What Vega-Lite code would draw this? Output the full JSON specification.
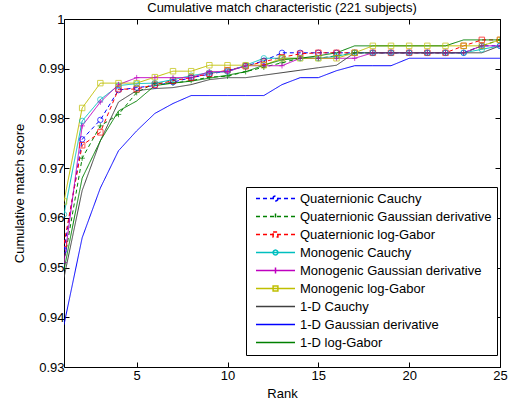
{
  "$schema": "https://vega.github.io/schema/vega-lite/v6.json",
  "width": 436,
  "height": 348,
  "autosize": "none",
  "padding": {"left": 64, "top": 19, "right": 8, "bottom": 40},
  "background": "white",
  "title": {"text": "Cumulative match characteristic (221 subjects)", "fontSize": 13, "font": "Liberation Sans", "fontWeight": "normal", "color": "black", "offset": -2, "anchor": "middle"},
  "config": {"view": {"stroke": null}, "font": "Liberation Sans"},
  "datasets": {
    "cmc": [
      {"series": "Quaternionic Cauchy", "rank": 1, "score": 0.9535},
      {"series": "Quaternionic Cauchy", "rank": 2, "score": 0.9758},
      {"series": "Quaternionic Cauchy", "rank": 3, "score": 0.9797},
      {"series": "Quaternionic Cauchy", "rank": 4, "score": 0.9857},
      {"series": "Quaternionic Cauchy", "rank": 5, "score": 0.9862},
      {"series": "Quaternionic Cauchy", "rank": 6, "score": 0.9866},
      {"series": "Quaternionic Cauchy", "rank": 7, "score": 0.9873},
      {"series": "Quaternionic Cauchy", "rank": 8, "score": 0.9882},
      {"series": "Quaternionic Cauchy", "rank": 9, "score": 0.9889},
      {"series": "Quaternionic Cauchy", "rank": 10, "score": 0.9896},
      {"series": "Quaternionic Cauchy", "rank": 11, "score": 0.9905},
      {"series": "Quaternionic Cauchy", "rank": 12, "score": 0.9916},
      {"series": "Quaternionic Cauchy", "rank": 13, "score": 0.9932},
      {"series": "Quaternionic Cauchy", "rank": 14, "score": 0.9932},
      {"series": "Quaternionic Cauchy", "rank": 15, "score": 0.9932},
      {"series": "Quaternionic Cauchy", "rank": 16, "score": 0.9932},
      {"series": "Quaternionic Cauchy", "rank": 17, "score": 0.9932},
      {"series": "Quaternionic Cauchy", "rank": 18, "score": 0.9932},
      {"series": "Quaternionic Cauchy", "rank": 19, "score": 0.9932},
      {"series": "Quaternionic Cauchy", "rank": 20, "score": 0.9932},
      {"series": "Quaternionic Cauchy", "rank": 21, "score": 0.9932},
      {"series": "Quaternionic Cauchy", "rank": 22, "score": 0.9932},
      {"series": "Quaternionic Cauchy", "rank": 23, "score": 0.9932},
      {"series": "Quaternionic Cauchy", "rank": 24, "score": 0.9946},
      {"series": "Quaternionic Cauchy", "rank": 25, "score": 0.9946},
      {"series": "Quaternionic Gaussian derivative", "rank": 1, "score": 0.951},
      {"series": "Quaternionic Gaussian derivative", "rank": 2, "score": 0.972},
      {"series": "Quaternionic Gaussian derivative", "rank": 3, "score": 0.9785},
      {"series": "Quaternionic Gaussian derivative", "rank": 4, "score": 0.9808},
      {"series": "Quaternionic Gaussian derivative", "rank": 5, "score": 0.9852},
      {"series": "Quaternionic Gaussian derivative", "rank": 6, "score": 0.9871},
      {"series": "Quaternionic Gaussian derivative", "rank": 7, "score": 0.9871},
      {"series": "Quaternionic Gaussian derivative", "rank": 8, "score": 0.9876},
      {"series": "Quaternionic Gaussian derivative", "rank": 9, "score": 0.9883},
      {"series": "Quaternionic Gaussian derivative", "rank": 10, "score": 0.9885},
      {"series": "Quaternionic Gaussian derivative", "rank": 11, "score": 0.9894},
      {"series": "Quaternionic Gaussian derivative", "rank": 12, "score": 0.9903},
      {"series": "Quaternionic Gaussian derivative", "rank": 13, "score": 0.9912},
      {"series": "Quaternionic Gaussian derivative", "rank": 14, "score": 0.9921},
      {"series": "Quaternionic Gaussian derivative", "rank": 15, "score": 0.9921},
      {"series": "Quaternionic Gaussian derivative", "rank": 16, "score": 0.9926},
      {"series": "Quaternionic Gaussian derivative", "rank": 17, "score": 0.9932},
      {"series": "Quaternionic Gaussian derivative", "rank": 18, "score": 0.9932},
      {"series": "Quaternionic Gaussian derivative", "rank": 19, "score": 0.9932},
      {"series": "Quaternionic Gaussian derivative", "rank": 20, "score": 0.9932},
      {"series": "Quaternionic Gaussian derivative", "rank": 21, "score": 0.9932},
      {"series": "Quaternionic Gaussian derivative", "rank": 22, "score": 0.9932},
      {"series": "Quaternionic Gaussian derivative", "rank": 23, "score": 0.9932},
      {"series": "Quaternionic Gaussian derivative", "rank": 24, "score": 0.9946},
      {"series": "Quaternionic Gaussian derivative", "rank": 25, "score": 0.9958},
      {"series": "Quaternionic log-Gabor", "rank": 1, "score": 0.9548},
      {"series": "Quaternionic log-Gabor", "rank": 2, "score": 0.9746},
      {"series": "Quaternionic log-Gabor", "rank": 3, "score": 0.9772},
      {"series": "Quaternionic log-Gabor", "rank": 4, "score": 0.9859},
      {"series": "Quaternionic log-Gabor", "rank": 5, "score": 0.9859},
      {"series": "Quaternionic log-Gabor", "rank": 6, "score": 0.9868},
      {"series": "Quaternionic log-Gabor", "rank": 7, "score": 0.9876},
      {"series": "Quaternionic log-Gabor", "rank": 8, "score": 0.9882},
      {"series": "Quaternionic log-Gabor", "rank": 9, "score": 0.989},
      {"series": "Quaternionic log-Gabor", "rank": 10, "score": 0.9897},
      {"series": "Quaternionic log-Gabor", "rank": 11, "score": 0.9905},
      {"series": "Quaternionic log-Gabor", "rank": 12, "score": 0.9914},
      {"series": "Quaternionic log-Gabor", "rank": 13, "score": 0.9923},
      {"series": "Quaternionic log-Gabor", "rank": 14, "score": 0.993},
      {"series": "Quaternionic log-Gabor", "rank": 15, "score": 0.9932},
      {"series": "Quaternionic log-Gabor", "rank": 16, "score": 0.9932},
      {"series": "Quaternionic log-Gabor", "rank": 17, "score": 0.9932},
      {"series": "Quaternionic log-Gabor", "rank": 18, "score": 0.9932},
      {"series": "Quaternionic log-Gabor", "rank": 19, "score": 0.9932},
      {"series": "Quaternionic log-Gabor", "rank": 20, "score": 0.9932},
      {"series": "Quaternionic log-Gabor", "rank": 21, "score": 0.9932},
      {"series": "Quaternionic log-Gabor", "rank": 22, "score": 0.9932},
      {"series": "Quaternionic log-Gabor", "rank": 23, "score": 0.9946},
      {"series": "Quaternionic log-Gabor", "rank": 24, "score": 0.9958},
      {"series": "Quaternionic log-Gabor", "rank": 25, "score": 0.9958},
      {"series": "Monogenic Cauchy", "rank": 1, "score": 0.9607},
      {"series": "Monogenic Cauchy", "rank": 2, "score": 0.9795},
      {"series": "Monogenic Cauchy", "rank": 3, "score": 0.9838},
      {"series": "Monogenic Cauchy", "rank": 4, "score": 0.9866},
      {"series": "Monogenic Cauchy", "rank": 5, "score": 0.987},
      {"series": "Monogenic Cauchy", "rank": 6, "score": 0.9871},
      {"series": "Monogenic Cauchy", "rank": 7, "score": 0.9878},
      {"series": "Monogenic Cauchy", "rank": 8, "score": 0.9886},
      {"series": "Monogenic Cauchy", "rank": 9, "score": 0.9892},
      {"series": "Monogenic Cauchy", "rank": 10, "score": 0.9894},
      {"series": "Monogenic Cauchy", "rank": 11, "score": 0.9907},
      {"series": "Monogenic Cauchy", "rank": 12, "score": 0.9921},
      {"series": "Monogenic Cauchy", "rank": 13, "score": 0.9921},
      {"series": "Monogenic Cauchy", "rank": 14, "score": 0.9921},
      {"series": "Monogenic Cauchy", "rank": 15, "score": 0.9921},
      {"series": "Monogenic Cauchy", "rank": 16, "score": 0.9925},
      {"series": "Monogenic Cauchy", "rank": 17, "score": 0.9932},
      {"series": "Monogenic Cauchy", "rank": 18, "score": 0.9932},
      {"series": "Monogenic Cauchy", "rank": 19, "score": 0.9932},
      {"series": "Monogenic Cauchy", "rank": 20, "score": 0.9932},
      {"series": "Monogenic Cauchy", "rank": 21, "score": 0.9932},
      {"series": "Monogenic Cauchy", "rank": 22, "score": 0.9932},
      {"series": "Monogenic Cauchy", "rank": 23, "score": 0.9932},
      {"series": "Monogenic Cauchy", "rank": 24, "score": 0.9939},
      {"series": "Monogenic Cauchy", "rank": 25, "score": 0.9946},
      {"series": "Monogenic Gaussian derivative", "rank": 1, "score": 0.951},
      {"series": "Monogenic Gaussian derivative", "rank": 2, "score": 0.9785},
      {"series": "Monogenic Gaussian derivative", "rank": 3, "score": 0.9833},
      {"series": "Monogenic Gaussian derivative", "rank": 4, "score": 0.9868},
      {"series": "Monogenic Gaussian derivative", "rank": 5, "score": 0.9882},
      {"series": "Monogenic Gaussian derivative", "rank": 6, "score": 0.9882},
      {"series": "Monogenic Gaussian derivative", "rank": 7, "score": 0.9882},
      {"series": "Monogenic Gaussian derivative", "rank": 8, "score": 0.9882},
      {"series": "Monogenic Gaussian derivative", "rank": 9, "score": 0.9894},
      {"series": "Monogenic Gaussian derivative", "rank": 10, "score": 0.9894},
      {"series": "Monogenic Gaussian derivative", "rank": 11, "score": 0.9906},
      {"series": "Monogenic Gaussian derivative", "rank": 12, "score": 0.9906},
      {"series": "Monogenic Gaussian derivative", "rank": 13, "score": 0.9906},
      {"series": "Monogenic Gaussian derivative", "rank": 14, "score": 0.9921},
      {"series": "Monogenic Gaussian derivative", "rank": 15, "score": 0.9921},
      {"series": "Monogenic Gaussian derivative", "rank": 16, "score": 0.9921},
      {"series": "Monogenic Gaussian derivative", "rank": 17, "score": 0.9921},
      {"series": "Monogenic Gaussian derivative", "rank": 18, "score": 0.9932},
      {"series": "Monogenic Gaussian derivative", "rank": 19, "score": 0.9932},
      {"series": "Monogenic Gaussian derivative", "rank": 20, "score": 0.9932},
      {"series": "Monogenic Gaussian derivative", "rank": 21, "score": 0.9932},
      {"series": "Monogenic Gaussian derivative", "rank": 22, "score": 0.9932},
      {"series": "Monogenic Gaussian derivative", "rank": 23, "score": 0.9932},
      {"series": "Monogenic Gaussian derivative", "rank": 24, "score": 0.9946},
      {"series": "Monogenic Gaussian derivative", "rank": 25, "score": 0.9946},
      {"series": "Monogenic log-Gabor", "rank": 1, "score": 0.9633},
      {"series": "Monogenic log-Gabor", "rank": 2, "score": 0.9821},
      {"series": "Monogenic log-Gabor", "rank": 3, "score": 0.9871},
      {"series": "Monogenic log-Gabor", "rank": 4, "score": 0.9871},
      {"series": "Monogenic log-Gabor", "rank": 5, "score": 0.9871},
      {"series": "Monogenic log-Gabor", "rank": 6, "score": 0.9883},
      {"series": "Monogenic log-Gabor", "rank": 7, "score": 0.9895},
      {"series": "Monogenic log-Gabor", "rank": 8, "score": 0.9895},
      {"series": "Monogenic log-Gabor", "rank": 9, "score": 0.9907},
      {"series": "Monogenic log-Gabor", "rank": 10, "score": 0.9907},
      {"series": "Monogenic log-Gabor", "rank": 11, "score": 0.9907},
      {"series": "Monogenic log-Gabor", "rank": 12, "score": 0.9907},
      {"series": "Monogenic log-Gabor", "rank": 13, "score": 0.9921},
      {"series": "Monogenic log-Gabor", "rank": 14, "score": 0.9921},
      {"series": "Monogenic log-Gabor", "rank": 15, "score": 0.9921},
      {"series": "Monogenic log-Gabor", "rank": 16, "score": 0.9921},
      {"series": "Monogenic log-Gabor", "rank": 17, "score": 0.9932},
      {"series": "Monogenic log-Gabor", "rank": 18, "score": 0.9946},
      {"series": "Monogenic log-Gabor", "rank": 19, "score": 0.9946},
      {"series": "Monogenic log-Gabor", "rank": 20, "score": 0.9946},
      {"series": "Monogenic log-Gabor", "rank": 21, "score": 0.9946},
      {"series": "Monogenic log-Gabor", "rank": 22, "score": 0.9946},
      {"series": "Monogenic log-Gabor", "rank": 23, "score": 0.9946},
      {"series": "Monogenic log-Gabor", "rank": 24, "score": 0.9946},
      {"series": "Monogenic log-Gabor", "rank": 25, "score": 0.9958},
      {"series": "1-D Cauchy", "rank": 1, "score": 0.948},
      {"series": "1-D Cauchy", "rank": 2, "score": 0.9655},
      {"series": "1-D Cauchy", "rank": 3, "score": 0.9755},
      {"series": "1-D Cauchy", "rank": 4, "score": 0.9833},
      {"series": "1-D Cauchy", "rank": 5, "score": 0.9856},
      {"series": "1-D Cauchy", "rank": 6, "score": 0.986},
      {"series": "1-D Cauchy", "rank": 7, "score": 0.9862},
      {"series": "1-D Cauchy", "rank": 8, "score": 0.9868},
      {"series": "1-D Cauchy", "rank": 9, "score": 0.9878},
      {"series": "1-D Cauchy", "rank": 10, "score": 0.9882},
      {"series": "1-D Cauchy", "rank": 11, "score": 0.9882},
      {"series": "1-D Cauchy", "rank": 12, "score": 0.9887},
      {"series": "1-D Cauchy", "rank": 13, "score": 0.9892},
      {"series": "1-D Cauchy", "rank": 14, "score": 0.9897},
      {"series": "1-D Cauchy", "rank": 15, "score": 0.9902},
      {"series": "1-D Cauchy", "rank": 16, "score": 0.9907},
      {"series": "1-D Cauchy", "rank": 17, "score": 0.9932},
      {"series": "1-D Cauchy", "rank": 18, "score": 0.9932},
      {"series": "1-D Cauchy", "rank": 19, "score": 0.9932},
      {"series": "1-D Cauchy", "rank": 20, "score": 0.9932},
      {"series": "1-D Cauchy", "rank": 21, "score": 0.9932},
      {"series": "1-D Cauchy", "rank": 22, "score": 0.9932},
      {"series": "1-D Cauchy", "rank": 23, "score": 0.9932},
      {"series": "1-D Cauchy", "rank": 24, "score": 0.9932},
      {"series": "1-D Cauchy", "rank": 25, "score": 0.9946},
      {"series": "1-D Gaussian derivative", "rank": 1, "score": 0.9385},
      {"series": "1-D Gaussian derivative", "rank": 2, "score": 0.956},
      {"series": "1-D Gaussian derivative", "rank": 3, "score": 0.966},
      {"series": "1-D Gaussian derivative", "rank": 4, "score": 0.9735},
      {"series": "1-D Gaussian derivative", "rank": 5, "score": 0.9775},
      {"series": "1-D Gaussian derivative", "rank": 6, "score": 0.981},
      {"series": "1-D Gaussian derivative", "rank": 7, "score": 0.983},
      {"series": "1-D Gaussian derivative", "rank": 8, "score": 0.9846},
      {"series": "1-D Gaussian derivative", "rank": 9, "score": 0.9846},
      {"series": "1-D Gaussian derivative", "rank": 10, "score": 0.9846},
      {"series": "1-D Gaussian derivative", "rank": 11, "score": 0.9846},
      {"series": "1-D Gaussian derivative", "rank": 12, "score": 0.9846},
      {"series": "1-D Gaussian derivative", "rank": 13, "score": 0.9868},
      {"series": "1-D Gaussian derivative", "rank": 14, "score": 0.9882},
      {"series": "1-D Gaussian derivative", "rank": 15, "score": 0.9882},
      {"series": "1-D Gaussian derivative", "rank": 16, "score": 0.9896},
      {"series": "1-D Gaussian derivative", "rank": 17, "score": 0.9906},
      {"series": "1-D Gaussian derivative", "rank": 18, "score": 0.9906},
      {"series": "1-D Gaussian derivative", "rank": 19, "score": 0.9906},
      {"series": "1-D Gaussian derivative", "rank": 20, "score": 0.9921},
      {"series": "1-D Gaussian derivative", "rank": 21, "score": 0.9921},
      {"series": "1-D Gaussian derivative", "rank": 22, "score": 0.9921},
      {"series": "1-D Gaussian derivative", "rank": 23, "score": 0.9921},
      {"series": "1-D Gaussian derivative", "rank": 24, "score": 0.9921},
      {"series": "1-D Gaussian derivative", "rank": 25, "score": 0.9921},
      {"series": "1-D log-Gabor", "rank": 1, "score": 0.9495},
      {"series": "1-D log-Gabor", "rank": 2, "score": 0.968},
      {"series": "1-D log-Gabor", "rank": 3, "score": 0.9755},
      {"series": "1-D log-Gabor", "rank": 4, "score": 0.9815},
      {"series": "1-D log-Gabor", "rank": 5, "score": 0.9835},
      {"series": "1-D log-Gabor", "rank": 6, "score": 0.9866},
      {"series": "1-D log-Gabor", "rank": 7, "score": 0.9871},
      {"series": "1-D log-Gabor", "rank": 8, "score": 0.9875},
      {"series": "1-D log-Gabor", "rank": 9, "score": 0.9881},
      {"series": "1-D log-Gabor", "rank": 10, "score": 0.9887},
      {"series": "1-D log-Gabor", "rank": 11, "score": 0.9894},
      {"series": "1-D log-Gabor", "rank": 12, "score": 0.9907},
      {"series": "1-D log-Gabor", "rank": 13, "score": 0.9918},
      {"series": "1-D log-Gabor", "rank": 14, "score": 0.9921},
      {"series": "1-D log-Gabor", "rank": 15, "score": 0.9926},
      {"series": "1-D log-Gabor", "rank": 16, "score": 0.9932},
      {"series": "1-D log-Gabor", "rank": 17, "score": 0.9946},
      {"series": "1-D log-Gabor", "rank": 18, "score": 0.9946},
      {"series": "1-D log-Gabor", "rank": 19, "score": 0.9946},
      {"series": "1-D log-Gabor", "rank": 20, "score": 0.9946},
      {"series": "1-D log-Gabor", "rank": 21, "score": 0.9946},
      {"series": "1-D log-Gabor", "rank": 22, "score": 0.9946},
      {"series": "1-D log-Gabor", "rank": 23, "score": 0.9958},
      {"series": "1-D log-Gabor", "rank": 24, "score": 0.9958},
      {"series": "1-D log-Gabor", "rank": 25, "score": 0.9958}
    ]
  },
  "data": {"name": "cmc"},
  "layer": [
    {
      "mark": {"type": "line", "strokeWidth": 1, "clip": true},
      "encoding": {
        "x": {"field": "rank", "type": "quantitative", "scale": {"domain": [1, 25], "nice": false, "zero": false},
          "axis": {"orient": "bottom", "values": [5, 10, 15, 20, 25], "grid": false, "tickSize": -5, "tickColor": "black", "domainColor": "black", "labelColor": "black", "labelFont": "Liberation Sans", "labelFontSize": 13, "labelPadding": 7, "labelFlush": false, "title": "Rank", "titleFont": "Liberation Sans", "titleFontSize": 13, "titleFontWeight": "normal", "titleColor": "black", "titlePadding": 5}},
        "y": {"field": "score", "type": "quantitative", "scale": {"domain": [0.93, 1], "nice": false, "zero": false},
          "axis": {"orient": "left", "values": [0.93, 0.94, 0.95, 0.96, 0.97, 0.98, 0.99, 1], "format": ".2~f", "grid": false, "tickSize": -5, "tickColor": "black", "domainColor": "black", "labelColor": "black", "labelFont": "Liberation Sans", "labelFontSize": 13, "labelPadding": 5, "labelFlush": false, "title": "Cumulative match score", "titleFont": "Liberation Sans", "titleFontSize": 13, "titleFontWeight": "normal", "titleColor": "black", "titlePadding": 12}},
        "color": {"field": "series", "type": "nominal",
          "scale": {"domain": ["Quaternionic Cauchy", "Quaternionic Gaussian derivative", "Quaternionic log-Gabor", "Monogenic Cauchy", "Monogenic Gaussian derivative", "Monogenic log-Gabor", "1-D Cauchy", "1-D Gaussian derivative", "1-D log-Gabor"],
            "range": ["#0000ff", "#008000", "#ff0000", "#00bfbf", "#bf00bf", "#bfbf00", "#404040", "#0000ff", "#008000"]},
          "legend": {"orient": "none", "legendX": 182, "legendY": 168, "title": null, "strokeColor": "black", "fillColor": "white", "padding": 5, "labelFont": "Liberation Sans", "labelFontSize": 13, "labelColor": "black", "symbolSize": 36, "symbolStrokeWidth": 1.5, "symbolOffset": 18, "labelOffset": 18, "rowPadding": 4, "cornerRadius": 0, "labelLimit": 300,
            "encode": {"symbols": {"update": {"fill": {"value": "transparent"}, "strokeDash": {"signal": "indexof(datum.value, 'Quaternionic') === 0 ? [4, 3] : [1, 0]"}, "shape": {"signal": "indexof(datum.value, '1-D') === 0 ? 'M-6.5,0H6.5' : indexof(datum.value, 'Cauchy') >= 0 ? 'M-6.5,0H6.5M0.8,0A0.8,0.8,0,1,1,-0.8,0A0.8,0.8,0,1,1,0.8,0' : indexof(datum.value, 'Gaussian') >= 0 ? 'M-6.5,0H6.5M0,-1V1' : 'M-6.5,0H6.5M-0.8,-0.8H0.8V0.8H-0.8Z'"}}}}}},
        "strokeDash": {"field": "series", "type": "nominal", "legend": null,
          "scale": {"domain": ["Quaternionic Cauchy", "Quaternionic Gaussian derivative", "Quaternionic log-Gabor", "Monogenic Cauchy", "Monogenic Gaussian derivative", "Monogenic log-Gabor", "1-D Cauchy", "1-D Gaussian derivative", "1-D log-Gabor"],
            "range": [[4, 3], [4, 3], [4, 3], [1, 0], [1, 0], [1, 0], [1, 0], [1, 0], [1, 0]]}}
      }
    },
    {
      "transform": [{"filter": "indexof(datum.series, '1-D') !== 0"}],
      "mark": {"type": "point", "filled": false, "size": 30, "strokeWidth": 1, "clip": true},
      "encoding": {
        "x": {"field": "rank", "type": "quantitative",
          "axis": {"orient": "top", "values": [5, 10, 15, 20, 25], "grid": false, "labels": false, "title": null, "tickSize": -5, "tickColor": "black", "domainColor": "black"}},
        "y": {"field": "score", "type": "quantitative",
          "axis": {"orient": "right", "values": [0.93, 0.94, 0.95, 0.96, 0.97, 0.98, 0.99, 1], "grid": false, "labels": false, "title": null, "tickSize": -5, "tickColor": "black", "domainColor": "black"}},
        "color": {"field": "series", "type": "nominal", "legend": null,
          "scale": {"domain": ["Quaternionic Cauchy", "Quaternionic Gaussian derivative", "Quaternionic log-Gabor", "Monogenic Cauchy", "Monogenic Gaussian derivative", "Monogenic log-Gabor", "1-D Cauchy", "1-D Gaussian derivative", "1-D log-Gabor"],
            "range": ["#0000ff", "#008000", "#ff0000", "#00bfbf", "#bf00bf", "#bfbf00", "#404040", "#0000ff", "#008000"]}},
        "shape": {"field": "series", "type": "nominal", "legend": null,
          "scale": {"domain": ["Quaternionic Cauchy", "Quaternionic Gaussian derivative", "Quaternionic log-Gabor", "Monogenic Cauchy", "Monogenic Gaussian derivative", "Monogenic log-Gabor"],
            "range": ["circle", "M-1,0H1M0,-1V1", "square", "circle", "M-1,0H1M0,-1V1", "square"]}}
      }
    }
  ],
  "resolve": {"axis": {"x": "independent", "y": "independent"}}
}
